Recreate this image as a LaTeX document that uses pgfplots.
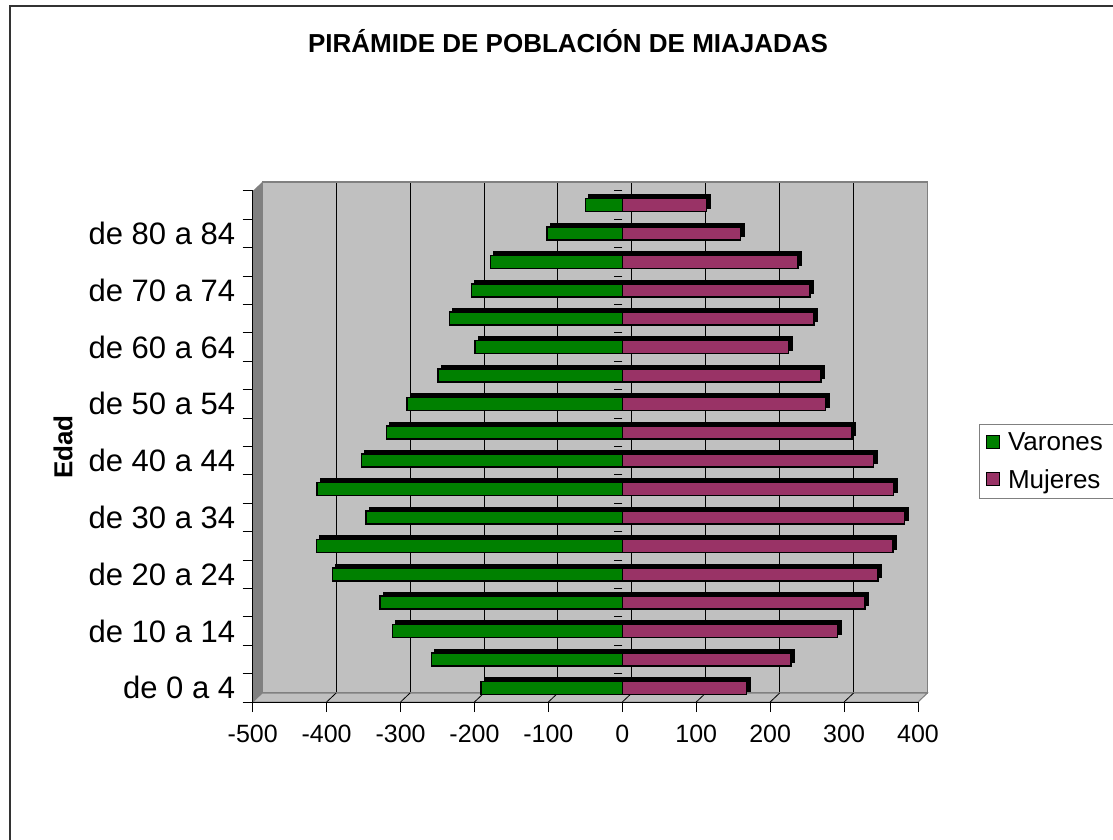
\documentclass[border=0pt]{standalone}
\usepackage{pgfplots}
\usepackage{pgfplotstable}
\pgfplotsset{compat=1.18}
\usepackage{fontspec}
\setmainfont{Liberation Sans}
\definecolor{vgreen}{HTML}{008000}
\definecolor{mpink}{HTML}{993366}
\definecolor{wallgray}{HTML}{C0C0C0}
\definecolor{darkgray}{HTML}{808080}

\pgfplotstableread{
idx var muj
0 -191 168
1 -258 228
2 -311 291
3 -328 328
4 -392 346
5 -414 366
6 -347 382
7 -413 367
8 -353 340
9 -319 311
10 -291 275
11 -249 269
12 -199 225
13 -234 259
14 -204 254
15 -178 238
16 -102 160
17 -50 114
}\datatable

\begin{document}
\begin{tikzpicture}[x=1pt,y=1pt]
% back wall
\begin{axis}[at={(262.2pt,146pt)}, anchor=south west, scale only axis,
  width=665.3pt, height=511pt,
  xmin=-500, xmax=400, ymin=-0.5, ymax=17.5,
  xtick={-400,-300,...,300}, ytick=\empty, xticklabels={},
  major tick length=0pt, xmajorgrids,
  grid style={black, line width=0.8pt},
  axis background/.style={fill=wallgray},
  axis line style={darkgray, line width=1.2pt}]
\addplot[draw=none] coordinates {(0,0)};
\end{axis}
% left wall and floor
\fill[darkgray] (252.7,137) -- (252.7,648) -- (262.2,657) -- (262.2,146) -- cycle;
\filldraw[fill=wallgray, draw=darkgray, line width=1pt] (252.7,137) -- (262.2,146) -- (927.5,146) -- (918,137) -- cycle;
\foreach \v in {-400,-300,...,300} \draw[black, line width=0.8pt] ({252.7+(\v+500)*0.73922},137) -- ++(9.5,9);
% front axis
\begin{axis}[at={(252.7pt,137pt)}, anchor=south west, scale only axis,
  width=665.3pt, height=511pt,
  xmin=-500, xmax=400, ymin=-0.5, ymax=17.5,
  axis x line*=bottom, axis y line*=left,
  axis line style={-, black, line width=1pt},
  tick align=outside, major tick length=10pt,
  tick style={black, line width=1pt},
  xtick={-500,-400,...,400},
  ytick={-0.5,0.5,...,17.5}, yticklabels={},
  extra y ticks={0,2,...,16},
  extra y tick labels={de 0 a 4,de 10 a 14,de 20 a 24,de 30 a 34,de 40 a 44,de 50 a 54,de 60 a 64,de 70 a 74,de 80 a 84},
  extra y tick style={tick style={draw=none}},
  /pgf/number format/assume math mode=true,
  xticklabel style={font=\fontsize{25}{30}\selectfont, yshift=-10pt},
  yticklabel style={font=\fontsize{31}{37}\selectfont, xshift=-4pt},
  title={PIRÁMIDE DE POBLACIÓN DE MIAJADAS},
  title style={at={(axis description cs:0.474,1.2818)}, anchor=center, font=\bfseries\fontsize{26}{31}\selectfont},
  ylabel={Edad},
  every axis y label/.style={at={(axis description cs:-0.285,0.499)}, rotate=90, anchor=center, font=\bfseries\fontsize{26}{31}\selectfont},
  legend style={at={(1.0917,0.545)}, anchor=north west, draw=darkgray, line width=1pt, fill=white,
    font=\fontsize{26}{31}\selectfont, inner xsep=6pt, inner ysep=7pt, row sep=13pt},
  legend cell align=left,
  legend image code/.code={\draw[#1, draw=black, line width=1.5pt] (0pt,-6pt) rectangle (13pt,7pt); \path (19pt,0pt);},
  ]
\addplot[xbar, bar shift=0pt, bar width=13pt, fill=black, draw=black, line width=1.5pt, xshift=3.5pt, yshift=3.5pt, forget plot] table[x=var, y=idx] {\datatable};
\addplot[xbar, bar shift=0pt, bar width=13pt, fill=black, draw=black, line width=1.5pt, xshift=3.5pt, yshift=3.5pt, forget plot] table[x=muj, y=idx] {\datatable};
\addplot[xbar, bar shift=0pt, bar width=13pt, fill=vgreen, draw=black, line width=1.5pt] table[x=var, y=idx] {\datatable};
\addlegendentry{Varones\kern20pt\null}
\addplot[xbar, bar shift=0pt, bar width=13pt, fill=mpink, draw=black, line width=1.5pt] table[x=muj, y=idx] {\datatable};
\addlegendentry{Mujeres\kern20pt\null}
\pgfplotsinvokeforeach{-0.5,0.5,...,17.5}{\draw[black, line width=1pt] (axis cs:0,#1) -- ([xshift=-8pt]axis cs:0,#1);}
\end{axis}
% outer frame
\draw[black!80, line width=2pt] (10,-20) -- (10,833) -- (1130,833);
\pgfresetboundingbox
\useasboundingbox (0,0) rectangle (1113,839);
\end{tikzpicture}
\end{document}
